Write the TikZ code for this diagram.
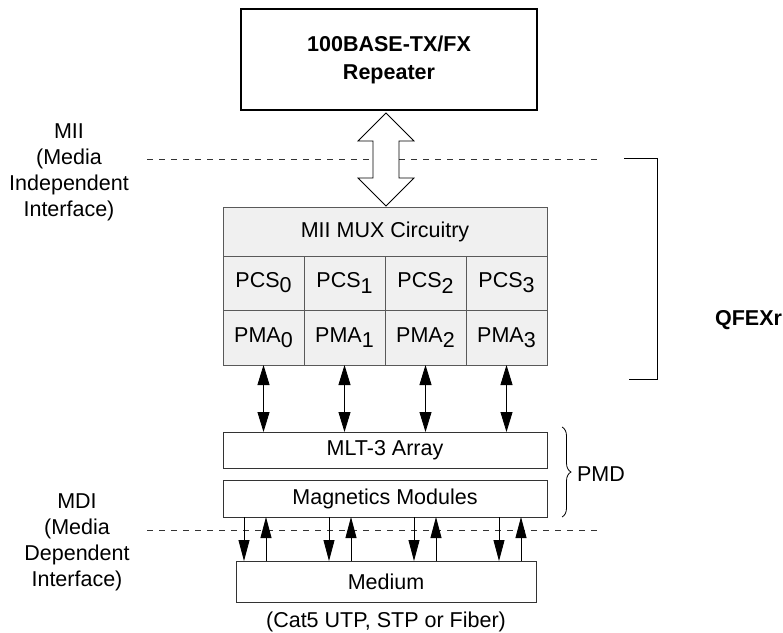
\documentclass[tikz,border=0pt]{standalone}
\usepackage{fontspec}
\setmainfont{Liberation Sans}
\usetikzlibrary{arrows.meta,decorations.pathreplacing}

% lowered index digit (PCS_0, PMA_1, ...), kept at full size
\newcommand\lowidx[1]{\raisebox{-0.24em}{#1}}

\begin{document}
\begin{tikzpicture}[x=1pt,y=-1pt,
  font=\fontsize{21.5}{26}\selectfont,
  every node/.style={inner sep=0pt, outer sep=0pt},
  cell/.style={draw=black!65, fill=black!6, line width=0.9pt, minimum width=81pt},
  plainbox/.style={draw=black!80, fill=white, line width=0.9pt},
  dashline/.style={draw=black!80, line width=0.8pt, dash pattern=on 6pt off 6pt},
  arr/.style={-{Triangle[length=21pt,width=11pt]}, line width=0.8pt},
  dbl/.style={{Triangle[length=20pt,width=12pt]}-{Triangle[length=20pt,width=12pt]}, line width=0.8pt},
  side/.style={align=center}
]
\useasboundingbox (0,0) rectangle (783,632);

% repeater at the top
\node[draw=black, line width=2pt, minimum width=296pt, minimum height=101pt,
      align=center, font=\bfseries\fontsize{21.5}{28}\selectfont] (rep) at (389,59.5)
  {100BASE-TX/FX\\Repeater};

% MII boundary
\coordinate (miiL) at (147,159);
\coordinate (miiR) at (602,159);
\draw[dashline] (miiL) -- (miiR);

% wide MII double arrow between repeater and mux
\draw[fill=white, line width=0.8pt]
  (386,113) -- (414,141) -- (399,141) -- (399,178) -- (414,178) -- (386,206)
  -- (358,178) -- (373,178) -- (373,141) -- (358,141) -- cycle;

% MUX and per-port PCS / PMA cells
\node[cell, minimum width=324pt, minimum height=49pt] (mux) at (385,231.5) {MII MUX Circuitry};
\foreach \i/\cx in {0/263.5,1/344.5,2/425.5,3/506.5} {
  \node[cell, minimum height=54pt] (pcs\i) at (\cx,283) {PCS\lowidx{\i}};
  \node[cell, minimum height=55pt] (pma\i) at (\cx,337.5) {PMA\lowidx{\i}};
}

% PMD layers
\node[plainbox, minimum width=324pt, minimum height=36pt] (mlt) at (385,450) {MLT-3 Array};
\node[plainbox, minimum width=324pt, minimum height=37pt] (mag) at (385,498.5) {Magnetics Modules};

% PMA <-> MLT-3 links
\foreach \i in {0,...,3}
  \draw[dbl] (pma\i.south) -- (pma\i.south |- mlt.north);

% MDI boundary
\coordinate (mdiL) at (147,530);
\coordinate (mdiR) at (602,530);
\draw[dashline] (mdiL) -- (mdiR);

% medium
\node[plainbox, minimum width=300pt, minimum height=41pt] (med) at (386,581.5) {Medium};
\node (cap) at (386,622) {(Cat5 UTP, STP or Fiber)};

% transmit / receive pairs across the MDI
\foreach \dx in {-141,-56,29,114} {
  \path ([xshift=\dx pt]mag.south) coordinate (tx);
  \draw[arr] (tx) -- (tx |- med.north);
}
\foreach \dx in {-119,-34,51,136} {
  \path ([xshift=\dx pt]mag.south) coordinate (rx);
  \draw[arr] (rx |- med.north) -- (rx);
}

% PMD brace
\draw[line width=0.8pt, decorate, decoration={brace, amplitude=9pt}]
  (562,427) -- (562,517);
\node[anchor=west] (pmd) at (577,474) {PMD};

% QFEX bracket
\draw[line width=0.9pt] (624,158) -- (657,158) -- (657,379) -- (629,379);
\node[anchor=east, font=\bfseries\fontsize{21.5}{26}\selectfont] (qfex) at (782,320) {QFEXr};

% interface labels on the left
\node[side] (mii) at (69,172.5) {MII\\(Media\\Independent\\Interface)};
\node[side] (mdi) at (77,542.5) {MDI\\(Media\\Dependent\\Interface)};
\end{tikzpicture}
\end{document}
